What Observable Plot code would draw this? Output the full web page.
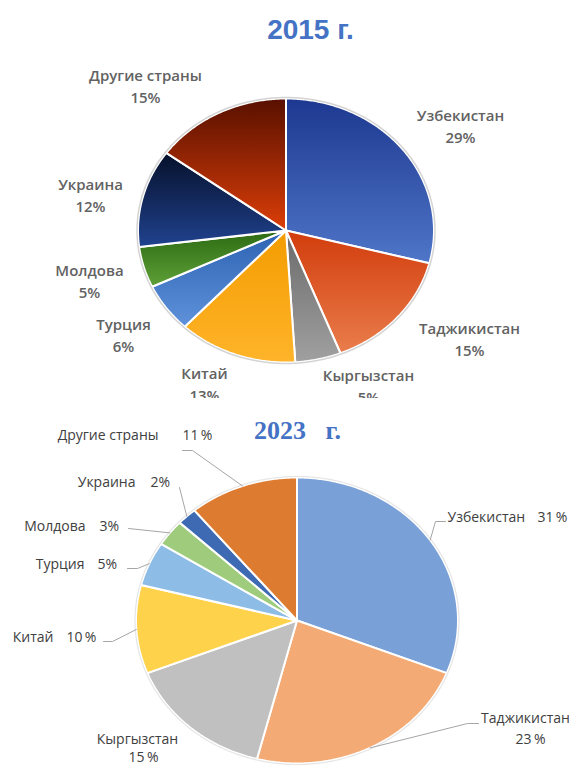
<!DOCTYPE html>
<html><head><meta charset="utf-8">
<script src="https://cdn.jsdelivr.net/npm/d3@7"></script>
<script src="https://cdn.jsdelivr.net/npm/@observablehq/plot@0.6"></script>
<style>
body{margin:0;background:#fff}
#top{height:398px;overflow:hidden;position:relative}
#bottom{height:369px;overflow:hidden;position:relative}
svg{display:block}
</style>
</head><body><div id="top"></div><div id="bottom"></div>
<script>
// ---- data ----
const countries = ["Узбекистан","Таджикистан","Кыргызстан","Китай","Турция","Молдова","Украина","Другие страны"];
const shares2015 = [29, 15, 5, 13, 6, 5, 12, 15];
const shares2023 = [31, 23, 15, 10, 5, 3, 2, 11];
const title2015 = "2015 г.";
const title2023 = "2023\u00a0\u00a0 г.";

// ---- layout (page pixel coordinates) ----
const geom2015 = {cx: 285.5, cy: 230, rx: 148, ry: 132};
const geom2023 = {cx: 296.5, cy: 620, rx: 161, ry: 143};
const grad2015 = [
  ["#1d3890", "#4f76c8"], ["#d23c0c", "#ea7d4c"], ["#6a6a6a", "#a0a0a0"], ["#f39c00", "#ffb42a"],
  ["#2c62b2", "#5f92da"], ["#2c6a12", "#5fa038"], ["#06102a", "#20428f"], ["#581000", "#dc3e08"]
];
const fill2023 = ["#7aa0d8", "#f4aa74", "#c0c0c0", "#ffd24c", "#8dbde6", "#9fcc7c", "#3e6ab3", "#dd7b30"];
const lab2015 = [[460,124],[469,337],[368,384],[204,382],[123,333],[89,279],[90,193],[145,84]];
// 2023: [nameX, nameY, nameAnchor, pctX, pctY, pctAnchor, leaderStart]
const lab2023 = [
  [447,517,"start",537,517,"start",[[445,521],[435,521]]],
  [525,718,"middle",530,739,"middle",[[478,723],[467,723]]],
  [137,739,"middle",143,757,"middle",null],
  [53,637,"end",66,637,"start",[[103,641],[112,641]]],
  [84,564,"end",97,564,"start",[[127,568],[137,568]]],
  [85,526,"end",99,526,"start",[[128,528]]],
  [135,482,"end",150,482,"start",[[179,487]]],
  [158,435,"end",182,435,"start",[[182,450],[192,450]]]
];

function pie(values, g) {
  const arcs = d3.pie().sort(null).value(d => d)(values);
  const rows = [];
  arcs.forEach((a, i) => {
    const n = Math.max(2, Math.ceil((a.endAngle - a.startAngle) / 0.01));
    rows.push({k: i, x: g.cx, y: g.cy});
    for (let j = 0; j <= n; j++) {
      const t = a.startAngle + (a.endAngle - a.startAngle) * j / n;
      rows.push({k: i, x: g.cx + g.rx * Math.sin(t), y: g.cy - g.ry * Math.cos(t)});
    }
  });
  return {arcs, rows};
}
function ellipse(g, d) {
  const pts = [];
  for (let j = 0; j < 360; j++) { const t = j * Math.PI / 180; pts.push({x: g.cx + (g.rx + d) * Math.sin(t), y: g.cy - (g.ry + d) * Math.cos(t)}); }
  return pts;
}

// ---- 2015 ----
{
  const {rows} = pie(shares2015, geom2015);
  const marks = shares2015.map((v, i) => Plot.line(rows.filter(r => r.k === i), {
    x: "x", y: "y", curve: "linear-closed", fill: `url(#g15_${i})`, stroke: "white", strokeWidth: 2, strokeLinejoin: "round"
  }));
  marks.push(Plot.line(ellipse(geom2015, 1), {x: "x", y: "y", curve: "linear-closed", stroke: "#d4d4d4", strokeWidth: 1.5, fill: "none"}));
  const labels = countries.map((c, i) => ({x: lab2015[i][0], y: lab2015[i][1], text: c + "\n" + shares2015[i] + "%"}));
  marks.push(Plot.text(labels, {x: "x", y: "y", text: "text", lineAnchor: "middle", lineHeight: 1.47,
    fontSize: 15, fontWeight: 600, fill: "#626262", fontFamily: "Open Sans"}));
  marks.push(Plot.text([{x: 310, y: 38, t: title2015}], {x: "x", y: "y", text: "t", lineAnchor: "bottom", dy: 0,
    fontSize: 28, fontWeight: 700, fill: "#4472c4", fontFamily: "Liberation Sans"}));
  const svg = Plot.plot({
    width: 569, height: 398, margin: 0,
    x: {domain: [0, 569], range: [0, 569], axis: null},
    y: {domain: [0, 398], range: [0, 398], axis: null},
    marks
  });
  const defs = grad2015.map((g, i) => `<linearGradient id="g15_${i}" x1="0" y1="0" x2="0" y2="1"><stop offset="0" stop-color="${g[0]}"/><stop offset="1" stop-color="${g[1]}"/></linearGradient>`).join("");
  svg.insertAdjacentHTML("afterbegin", `<defs>${defs}</defs>`);
  document.getElementById("top").appendChild(svg);
}

// ---- 2023 ----
{
  const g = geom2023;
  const {arcs, rows} = pie(shares2023, g);
  const marks = shares2023.map((v, i) => Plot.line(rows.filter(r => r.k === i), {
    x: "x", y: "y", curve: "linear-closed", fill: fill2023[i], stroke: "white", strokeWidth: 2, strokeLinejoin: "round"
  }));
  marks.push(Plot.line(ellipse(g, 1), {x: "x", y: "y", curve: "linear-closed", stroke: "#e6e6e6", strokeWidth: 1.2, fill: "none"}));
  const leaders = [];
  arcs.forEach((a, i) => {
    const L = lab2023[i][6];
    if (!L) return;
    const m = (a.startAngle + a.endAngle) / 2;
    L.forEach(p => leaders.push({k: i, x: p[0], y: p[1]}));
    leaders.push({k: i, x: g.cx + g.rx * Math.sin(m), y: g.cy - g.ry * Math.cos(m)});
  });
  marks.push(Plot.line(leaders, {x: "x", y: "y", z: "k", stroke: "#a6a6a6", strokeWidth: 1}));
  const names = countries.map((c, i) => ({x: lab2023[i][0], y: lab2023[i][1], a: lab2023[i][2], t: c}));
  const pcts = shares2023.map((v, i) => ({x: lab2023[i][3], y: lab2023[i][4], a: lab2023[i][5], t: v >= 10 ? v + "\u2009%" : v + "%"}));
  const all = names.concat(pcts);
  for (const anchor of ["start", "middle", "end"]) {
    marks.push(Plot.text(all.filter(d => d.a === anchor), {x: "x", y: "y", text: "t", textAnchor: anchor,
      fontSize: 14, fill: "#404040", fontFamily: "Open Sans"}));
  }
  marks.push(Plot.text([{x: 297, y: 438, t: title2023}], {x: "x", y: "y", text: "t", lineAnchor: "bottom",
    fontSize: 26, fontWeight: 700, fill: "#4472c4", fontFamily: "Liberation Serif"}));
  const svg = Plot.plot({
    width: 569, height: 369, margin: 0,
    x: {domain: [0, 569], range: [0, 569], axis: null},
    y: {domain: [398, 767], range: [0, 369], axis: null},
    marks
  });
  document.getElementById("bottom").appendChild(svg);
}
</script>
</body></html>
